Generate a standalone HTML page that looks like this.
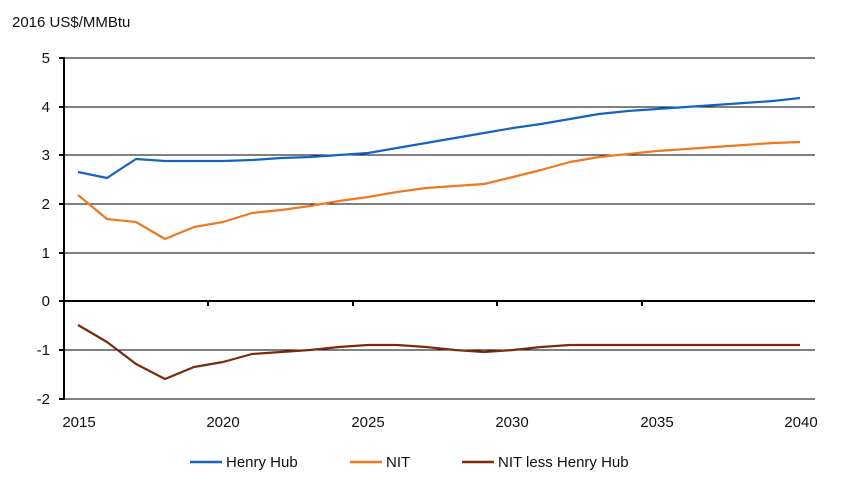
<!DOCTYPE html>
<html><head><meta charset="utf-8"><style>
body{margin:0;background:#fff;}
text{font-family:"Liberation Sans",sans-serif;fill:#111;}
</style></head><body>
<svg width="846" height="484" xmlns="http://www.w3.org/2000/svg">
<text x="12" y="27" font-size="15">2016 US$/MMBtu</text>
<g stroke="#000" stroke-width="1">
<line x1="64" y1="58" x2="815" y2="58"/>
<line x1="64" y1="107" x2="815" y2="107"/>
<line x1="64" y1="155" x2="815" y2="155"/>
<line x1="64" y1="204" x2="815" y2="204"/>
<line x1="64" y1="253" x2="815" y2="253"/>
<line x1="64" y1="350" x2="815" y2="350"/>
<line x1="64" y1="399" x2="815" y2="399"/>
</g>
<g stroke="#000" stroke-width="2">
<line x1="64" y1="57" x2="64" y2="400"/>
<line x1="64" y1="301" x2="815" y2="301"/>
<line x1="59" y1="58" x2="64" y2="58"/><line x1="59" y1="107" x2="64" y2="107"/><line x1="59" y1="155" x2="64" y2="155"/><line x1="59" y1="204" x2="64" y2="204"/><line x1="59" y1="253" x2="64" y2="253"/><line x1="59" y1="301" x2="64" y2="301"/><line x1="59" y1="350" x2="64" y2="350"/><line x1="59" y1="399" x2="64" y2="399"/>
<line x1="208" y1="301" x2="208" y2="306"/><line x1="353" y1="301" x2="353" y2="306"/><line x1="497" y1="301" x2="497" y2="306"/><line x1="642" y1="301" x2="642" y2="306"/>
</g>
<g font-size="15" text-anchor="end">
<text x="50" y="63">5</text><text x="50" y="112">4</text><text x="50" y="160">3</text><text x="50" y="209">2</text><text x="50" y="258">1</text><text x="50" y="306">0</text><text x="50" y="355">-1</text><text x="50" y="404">-2</text>
</g>
<g font-size="15" text-anchor="middle">
<text x="79" y="427">2015</text><text x="223" y="427">2020</text><text x="368" y="427">2025</text><text x="512" y="427">2030</text><text x="657" y="427">2035</text><text x="801" y="427">2040</text>
</g>
<g fill="none" stroke-width="2.2" stroke-linejoin="round">
<polyline stroke="#1565c0" points="78,172 107,178 136,159 165,161 194,161 223,161 252,160 281,158 310,157 339,155 368,153 397,148 426,143 455,138 484,133 513,128 541,124 570,119 599,114 628,111 657,109 686,107 715,105 744,103 773,101 800,98"/>
<polyline stroke="#f07820" points="78,195 107,219 136,222 165,239 194,227 223,222 252,213 281,210 310,206 339,201 368,197 397,192 426,188 455,186 484,184 513,177 541,170 570,162 599,157 628,154 657,151 686,149 715,147 744,145 773,143 800,142"/>
<polyline stroke="#7b2a0c" points="78,325 107,342 136,364 165,379 194,367 223,362 252,354 281,352 310,350 339,347 368,345 397,345 426,347 455,350 484,352 513,350 541,347 570,345 599,345 628,345 657,345 686,345 715,345 744,345 773,345 800,345"/>
</g>
<g stroke-width="2.5">
<line x1="190" y1="462" x2="222" y2="462" stroke="#1565c0"/>
<line x1="350" y1="462" x2="382" y2="462" stroke="#f07820"/>
<line x1="462" y1="462" x2="494" y2="462" stroke="#7b2a0c"/>
</g>
<g font-size="15">
<text x="226" y="467">Henry Hub</text><text x="386" y="467">NIT</text><text x="498" y="467">NIT less Henry Hub</text>
</g>
</svg>
</body></html>
